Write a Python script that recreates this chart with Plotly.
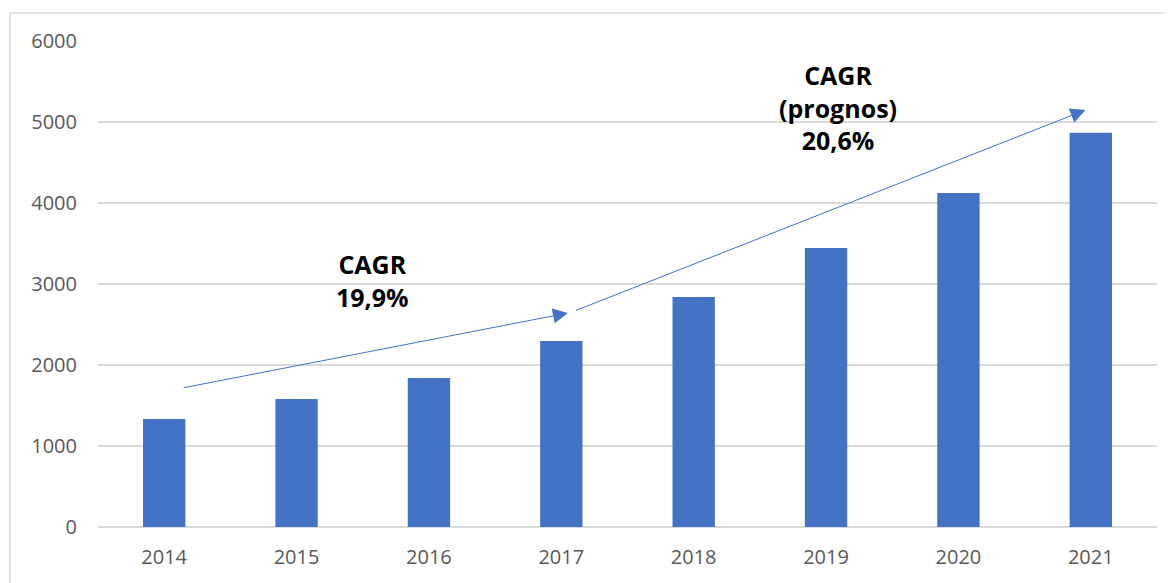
import plotly.graph_objects as go

years = ["2014", "2015", "2016", "2017", "2018", "2019", "2020", "2021"]
values = [1333, 1580, 1840, 2296, 2840, 3444, 4123, 4868]

BAR_COLOR = "#4472C4"
GRID_COLOR = "#D9D9D9"
TICK_COLOR = "#595959"
FONT = "Open Sans"

fig = go.Figure()
fig.add_trace(
    go.Bar(
        x=years,
        y=values,
        marker_color=BAR_COLOR,
        marker_line_width=0,
        hovertemplate="%{x}: %{y}<extra></extra>",
    )
)

# CAGR arrows (positions in category index / data units)
arrows = [
    dict(x=3.05, y=2642, ax=0.136, ay=1716),
    dict(x=6.96, y=5148, ax=3.10, ay=2667),
]
for a in arrows:
    fig.add_annotation(
        x=a["x"], y=a["y"], ax=a["ax"], ay=a["ay"],
        xref="x", yref="y", axref="x", ayref="y",
        text="", showarrow=True,
        arrowhead=2, arrowsize=3, arrowwidth=1, arrowcolor=BAR_COLOR,
    )

labels = [
    dict(x=1.57, y=3049, text="<b>CAGR<br>19,9%</b>"),
    dict(x=5.09, y=5185, text="<b>CAGR<br>(prognos)<br>20,6%</b>"),
]
for lab in labels:
    fig.add_annotation(
        x=lab["x"], y=lab["y"], xref="x", yref="y",
        text=lab["text"], showarrow=False,
        font=dict(family=FONT, size=25, color="#000000"),
        align="center",
    )

# chart frame (top and left edges visible)
fig.add_shape(
    type="path",
    path="M -0.0831 -0.2 L -0.0831 1.0576 L 1.1 1.0576",
    xref="paper", yref="paper",
    line=dict(color=GRID_COLOR, width=1.5),
)

fig.update_layout(
    width=1165,
    height=575,
    margin=dict(l=90, r=16, t=33, b=56),
    paper_bgcolor="white",
    plot_bgcolor="white",
    bargap=0.68,
    showlegend=False,
    font=dict(family=FONT, color=TICK_COLOR),
)
fig.update_xaxes(
    type="category",
    showgrid=False,
    showline=False,
    ticks="",
    tickfont=dict(size=20, color=TICK_COLOR),
    ticklabelstandoff=16,
)
fig.update_yaxes(
    range=[0, 6000],
    dtick=1000,
    showgrid=True,
    gridcolor=GRID_COLOR,
    gridwidth=1.5,
    zeroline=True,
    zerolinecolor=GRID_COLOR,
    zerolinewidth=1.5,
    showline=False,
    ticks="",
    tickfont=dict(size=20, color=TICK_COLOR),
    ticklabelstandoff=20,
)

fig.write_html("out.html")
